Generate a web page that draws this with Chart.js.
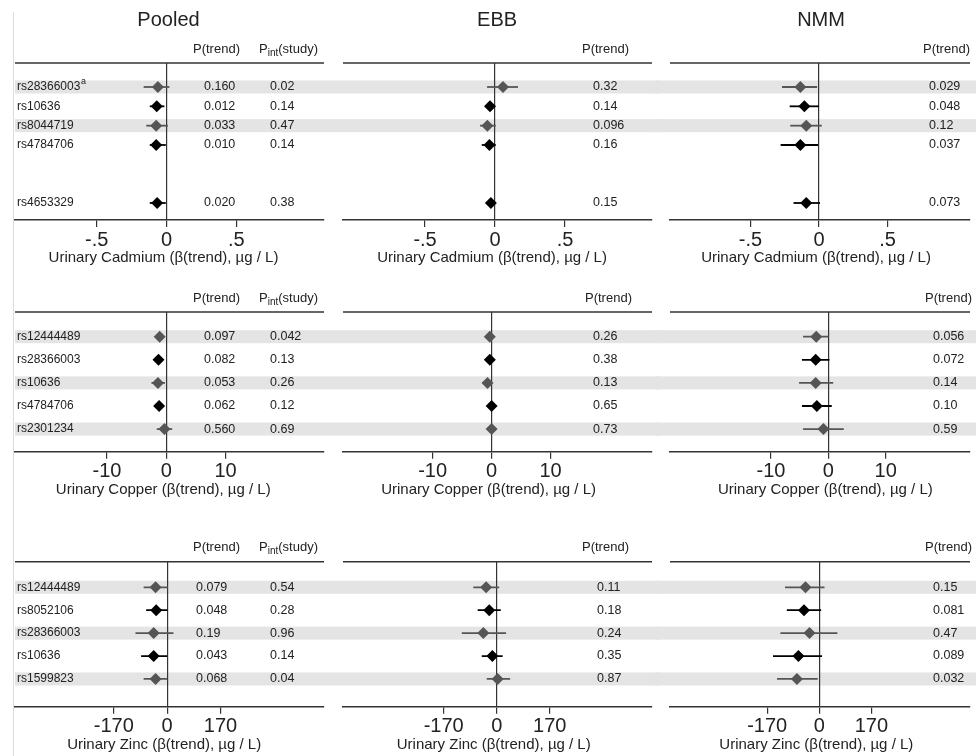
<!DOCTYPE html>
<html>
<head>
<meta charset="utf-8">
<script src="https://cdn.jsdelivr.net/npm/chart.js@4.4.1/dist/chart.umd.min.js"></script>
<style>
body { margin: 0; background: #fff; }
#wrap { position: relative; width: 976px; height: 756px; overflow: hidden; }
#wrap canvas { position: absolute; }
#edge { position: absolute; left: 13px; top: 12px; width: 1px; height: 744px; background: #dcdcdc; }
</style>
</head>
<body>
<div id="wrap"><div id="edge"></div></div>
<script>
const studies = ["Pooled", "EBB", "NMM"]

// Cadmium (rows: order in the plot, slot = vertical position)
const cdSnps = ["rs28366003", "rs10636", "rs8044719", "rs4784706", "rs4653329"]
const cdNotes = ["a", "", "", "", ""]
const cdSlots = [1, 2, 3, 4, 7]
const cdShade = [1, 0, 1, 0, 0]
const cdTicks = [-0.5, 0, 0.5]
const cdTickLabels = ["-.5", "0", ".5"]
// [Pooled, EBB, NMM]
const cdBeta = [[-0.062, -0.07, -0.074, -0.074, -0.067], [0.057, -0.036, -0.055, -0.04, -0.03], [-0.136, -0.107, -0.093, -0.136, -0.093]]
const cdLo = [[-0.164, -0.12, -0.145, -0.12, -0.12], [-0.057, -0.07, -0.107, -0.095, -0.06], [-0.27, -0.214, -0.21, -0.28, -0.186]]
const cdHi = [[0.021, -0.015, 0.01, -0.005, -0.005], [0.164, -0.005, 0.005, 0.005, 0.0], [-0.014, 0.0, 0.02, -0.007, 0.007]]
const cdP = [["0.160", "0.012", "0.033", "0.010", "0.020"], ["0.32", "0.14", "0.096", "0.16", "0.15"], ["0.029", "0.048", "0.12", "0.037", "0.073"]]
const cdPint = ["0.02", "0.14", "0.47", "0.14", "0.38"]

// Copper
const cuSnps = ["rs12444489", "rs28366003", "rs10636", "rs4784706", "rs2301234"]
const cuNotes = ["", "", "", "", ""]
const cuSlots = [1, 2, 3, 4, 5]
const cuShade = [1, 0, 1, 0, 1]
const cuTicks = [-10, 0, 10]
const cuTickLabels = ["-10", "0", "10"]
const cuBeta = [[-1.1, -1.3, -1.4, -1.2, -0.3], [-0.3, -0.3, -0.7, 0, 0], [-2.1, -2.2, -2.2, -2.0, -0.85]]
const cuLo = [[-1.8, -1.9, -2.5, -1.8, -1.6], [-0.7, -0.7, -1.2, -0.4, -0.4], [-4.4, -4.6, -5.1, -4.6, -4.4]]
const cuHi = [[-0.4, -0.7, -0.2, -0.6, 1.0], [0.1, 0.1, -0.2, 0.4, 0.4], [0, 0.2, 0.85, 0.6, 2.7]]
const cuP = [["0.097", "0.082", "0.053", "0.062", "0.560"], ["0.26", "0.38", "0.13", "0.65", "0.73"], ["0.056", "0.072", "0.14", "0.10", "0.59"]]
const cuPint = ["0.042", "0.13", "0.26", "0.12", "0.69"]

// Zinc
const znSnps = ["rs12444489", "rs8052106", "rs28366003", "rs10636", "rs1599823"]
const znNotes = ["", "", "", "", ""]
const znSlots = [1, 2, 3, 4, 5]
const znShade = [1, 0, 1, 0, 1]
const znTicks = [-170, 0, 170]
const znTickLabels = ["-170", "0", "170"]
const znBeta = [[-37, -35, -43, -43, -37], [-34, -24, -43, -14, 3], [-45, -50, -32, -68, -73]]
const znLo = [[-75, -67, -101, -83, -75], [-75, -61, -112, -48, -32], [-112, -106, -127, -151, -138]]
const znHi = [[2, 1, 20, 0, 0], [8, 13, 30, 19, 43], [17, 6, 59, 9, -5]]
const znP = [["0.079", "0.048", "0.19", "0.043", "0.068"], ["0.11", "0.18", "0.24", "0.35", "0.87"], ["0.15", "0.081", "0.47", "0.089", "0.032"]]
const znPint = ["0.54", "0.28", "0.96", "0.14", "0.04"]

const metals = [
    { name: "Cadmium", snps: cdSnps, notes: cdNotes, slots: cdSlots, shade: cdShade, ticks: cdTicks, tickLabels: cdTickLabels, beta: cdBeta, lo: cdLo, hi: cdHi, p: cdP, pint: cdPint,
      xr: [[-1.086, 1.129], [-1.086, 1.121], [-1.086, 1.1]], yr: [-0.241, 7.879] },
    { name: "Copper", snps: cuSnps, notes: cuNotes, slots: cuSlots, shade: cuShade, ticks: cuTicks, tickLabels: cuTickLabels, beta: cuBeta, lo: cuLo, hi: cuHi, p: cuP, pint: cuPint,
      xr: [[-25.5, 26.6], [-25.2, 27.2], [-27.6, 24.7]], yr: [-0.07, 5.98] },
    { name: "Zinc", snps: znSnps, notes: znNotes, slots: znSlots, shade: znShade, ticks: znTicks, tickLabels: znTickLabels, beta: znBeta, lo: znLo, hi: znHi, p: znP, pint: znPint,
      xr: [[-485, 500], [-493, 498], [-487, 491.5]], yr: [-0.116, 6.21] }
]

// layout (px)
const colLeft = [0, 330, 655], colWidth = [330, 330, 321]
const padL = [15, 13, 15], padR = [5, 8, 0]
const rowTop = [0, 270, 510], rowHeight = [270, 240, 246]
const areaTop = [63, 42, 51.7], areaBottom = [220, 181.7, 196.7]
// text columns, canvas-local x
const pCol = [[204, 204, 196], [263, 263, 267], [274, 278, 278]]
const pHead = [[193, 193, 193], [252, 255, 252], [268, 270, 270]]
const pintCol = 270, pintHead = 259

const FONT = '"Liberation Sans", Arial, Helvetica, sans-serif'
const black = "#000"
const gray = "#555"
const ink = "#222"

const wrap = document.querySelector("#wrap")

function forestPlugin(m, r, c) {
    return {
        id: "forest" + r + c,
        beforeDraw(chart) {
            const { ctx, chartArea, scales } = chart
            const from = c == 0 ? chartArea.left : 0
            ctx.save()
            ctx.fillStyle = "#e4e4e4"
            m.slots.forEach((s, i) => {
                if (!m.shade[i]) return
                const py = scales.y.getPixelForValue(s)
                ctx.fillRect(from, py - 6.5, chart.width - from, 13)
            })
            ctx.restore()
        },
        afterDraw(chart) {
            const { ctx, chartArea, scales } = chart
            const x0 = scales.x.getPixelForValue(0)
            ctx.save()
            // top rule
            ctx.strokeStyle = "#333"
            ctx.lineWidth = 1.4
            ctx.beginPath()
            ctx.moveTo(chartArea.left, chartArea.top)
            ctx.lineTo(chartArea.right, chartArea.top)
            ctx.stroke()

            ctx.fillStyle = ink
            ctx.textBaseline = "middle"
            if (r == 0) {
                ctx.textAlign = "center"
                ctx.font = "20px " + FONT
                ctx.fillText(studies[c], x0 + 2, 20)
            }
            ctx.textAlign = "center"
            ctx.font = "15px " + FONT
            ctx.fillText("Urinary " + m.name + " (\u03B2(trend), \u00B5g / L)", x0 - 3, chartArea.bottom + 38)

            ctx.textAlign = "left"
            const hy = chartArea.top - 14
            ctx.font = "13px " + FONT
            ctx.fillText("P(trend)", pHead[c][r], hy)
            if (c == 0) {
                let x = pintHead
                ctx.fillText("P", x, hy)
                x += ctx.measureText("P").width
                ctx.font = "10px " + FONT
                ctx.fillText("int", x, hy + 4)
                x += ctx.measureText("int").width
                ctx.font = "13px " + FONT
                ctx.fillText("(study)", x, hy)
            }

            m.slots.forEach((s, i) => {
                const py = scales.y.getPixelForValue(s)
                ctx.font = "12.5px " + FONT
                ctx.fillText(m.p[c][i], pCol[c][r], py)
                if (c == 0) {
                    ctx.fillText(m.pint[i], pintCol, py)
                    ctx.font = "12px " + FONT
                    ctx.fillText(m.snps[i], 17, py)
                    if (m.notes[i]) {
                        const w = ctx.measureText(m.snps[i]).width
                        ctx.font = "9px " + FONT
                        ctx.fillText(m.notes[i], 17 + w + 0.5, py - 5)
                    }
                }
            })
            ctx.restore()
        }
    }
}

function makePanel(m, r, c) {
    const cv = document.createElement("canvas")
    cv.width = colWidth[c]
    cv.height = rowHeight[r]
    cv.style.left = colLeft[c] + "px"
    cv.style.top = rowTop[r] + "px"
    cv.style.width = colWidth[c] + "px"
    cv.style.height = rowHeight[r] + "px"
    wrap.appendChild(cv)

    const datasets = [{
        type: "scatter",
        data: m.slots.map((s, i) => ({ x: m.beta[c][i], y: s })),
        pointStyle: "rectRot",
        pointRadius: 6,
        pointBorderWidth: 0,
        pointBackgroundColor: m.shade.map(s => s ? gray : black),
        borderWidth: 0
    }]
    m.slots.forEach((s, i) => {
        datasets.push({
            type: "line",
            data: [{ x: m.lo[c][i], y: s }, { x: m.hi[c][i], y: s }],
            borderColor: m.shade[i] ? gray : black,
            borderWidth: 1.8,
            pointRadius: 0,
            fill: false
        })
    })

    new Chart(cv, {
        data: { datasets },
        options: {
            responsive: false,
            animation: false,
            events: [],
            layout: { padding: { top: areaTop[r], left: padL[c], right: padR[c], bottom: 0 } },
            plugins: { legend: { display: false }, tooltip: { enabled: false } },
            scales: {
                x: {
                    type: "linear",
                    min: m.xr[c][0],
                    max: m.xr[c][1],
                    afterBuildTicks: sc => { sc.ticks = m.ticks.map(v => ({ value: v })) },
                    afterFit: sc => { sc.height = rowHeight[r] - areaBottom[r] },
                    ticks: {
                        callback: (v, i) => m.tickLabels[i],
                        font: { family: FONT, size: 20 },
                        color: ink,
                        padding: 1,
                        maxRotation: 0,
                        autoSkip: false
                    },
                    grid: {
                        color: ctx => (ctx.tick && ctx.tick.value === 0) ? "#333" : "rgba(0,0,0,0)",
                        tickColor: "#333",
                        tickLength: 7,
                        lineWidth: 1.2
                    },
                    border: { color: "#333", width: 1.4 }
                },
                y: { type: "linear", reverse: true, min: m.yr[0], max: m.yr[1], display: false }
            }
        },
        plugins: [forestPlugin(m, r, c)]
    })
}

metals.forEach((m, r) => {
    for (let c = 0; c < 3; c++) makePanel(m, r, c)
})
</script>
</body>
</html>
